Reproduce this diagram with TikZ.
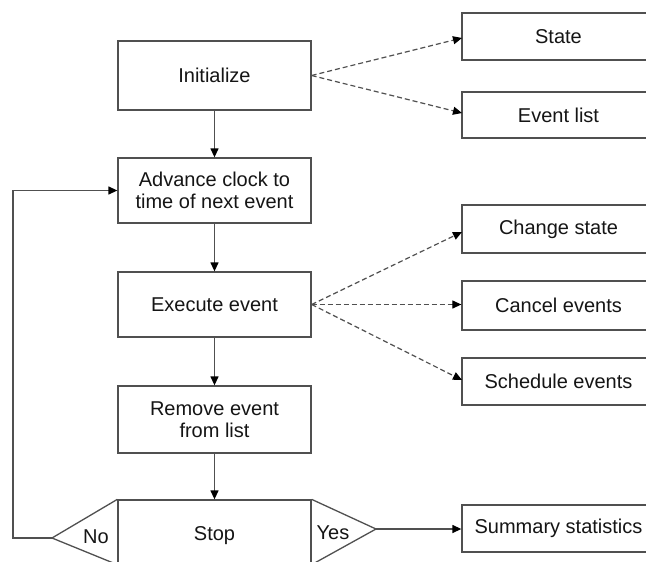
\documentclass[tikz,border=0pt]{standalone}
\usepackage{fontspec}
\setmainfont{Liberation Sans}
\usetikzlibrary{arrows.meta}
\definecolor{linec}{HTML}{505050}
\definecolor{textc}{HTML}{151515}
\tikzset{
  box/.style={draw=linec, line width=1.3pt, minimum width=193pt, inner sep=0pt,
              align=center, text=textc, font=\fontsize{20}{22}\selectfont},
  flow/.style={draw=linec, line width=1.3pt, -{Triangle[length=9pt,width=8pt,color=black]}},
  dflow/.style={draw=linec, line width=1.2pt, dash pattern=on 5pt off 3pt,
                -{Triangle[length=9pt,width=8pt,color=black]}},
  lbl/.style={text=textc, font=\fontsize{20}{22}\selectfont, inner sep=0pt}
}
\begin{document}
\begin{tikzpicture}[x=1pt,y=-1pt]
\path[use as bounding box, clip] (0,0) rectangle (646,562);
\fill[white] (0,0) rectangle (646,562);
% main column
\node[box, minimum height=69pt] (init) at (214.5,75.5) {Initialize};
\node[box, minimum height=65pt] (adv) at (214.5,190.5) {Advance clock to\\time of next event};
\node[box, minimum height=65pt] (exec) at (214.5,304.5) {Execute event};
\node[box, minimum height=67pt] (rem) at (214.5,419.5) {Remove event\\from list};
\node[box, minimum height=64pt, label={[lbl, yshift=-4pt]center:Stop}] (stop) at (214.5,532) {};
% decision triangles
\coordinate (noL) at (52,538);
\coordinate (yesR) at (376,529);
\draw[linec, line width=1.3pt, line join=miter] (stop.north west) -- (noL) -- (stop.south west);
\draw[linec, line width=1.3pt, line join=miter] (stop.north east) -- (yesR) -- (stop.south east);
\node[lbl] (no) at (96,537) {No};
\node[lbl] (yes) at (333,533) {Yes};
% right column
\node[box, minimum height=47pt] (state) at (558.5,36.5) {State};
\node[box, minimum height=46pt] (evlist) at (558.5,115) {Event list};
\node[box, minimum height=48pt] (chg) at (558.5,229) {Change state};
\node[box, minimum height=49pt] (cancel) at (558.5,305.5) {Cancel events};
\node[box, minimum height=47pt] (sched) at (558.5,381.5) {Schedule events};
\node[box, minimum height=47pt] (summ) at (558.5,528.5) {Summary statistics};
% main flow
\draw[flow] (init) -- (adv);
\draw[flow] (adv) -- (exec);
\draw[flow] (exec) -- (rem);
\draw[flow] (rem) -- (stop);
\coordinate (loopc) at (13,538);
\draw[flow] (noL) -- (loopc) |- (adv.west);
\draw[flow] (yesR) -- (summ.west |- yesR);
% dashed flows
\draw[dflow] (init.east) -- (462,38);
\draw[dflow] (init.east) -- (462,113);
\draw[dflow] (exec.east) -- (462,232);
\draw[dflow] (exec.east) -- (cancel.west |- exec.east);
\draw[dflow] (exec.east) -- (462,380);
\end{tikzpicture}
\end{document}
